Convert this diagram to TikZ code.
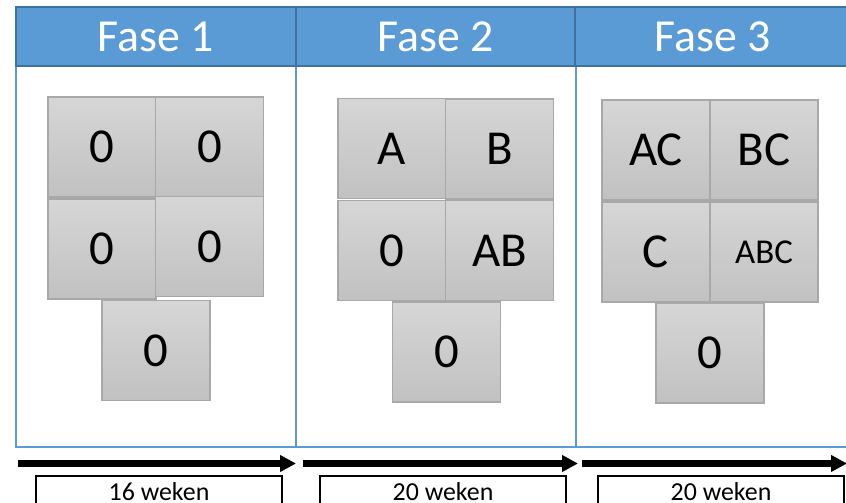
\documentclass[tikz,border=0pt]{standalone}
\usepackage{fontspec}
\setmainfont{Carlito}
\usetikzlibrary{arrows.meta}
\definecolor{hdrfill}{HTML}{5B9BD5}
\definecolor{hdrline}{HTML}{41719C}
\definecolor{colline}{HTML}{5B9BD5}
\definecolor{sqtop}{HTML}{D6D6D6}
\definecolor{sqbot}{HTML}{C1C1C1}
\definecolor{sqline}{HTML}{A8A8A8}
\tikzset{
  colbody/.style={draw=colline, line width=1.6bp, fill=white, minimum width=280bp, minimum height=381bp, inner sep=0pt, outer sep=0pt},
  hdr/.style={draw=hdrline, line width=1.8bp, fill=hdrfill, text=white, minimum height=59bp, inner sep=0pt, outer sep=0pt, font=\fontsize{46}{50}\selectfont},
  sq/.style={draw=sqline, line width=1.1bp, top color=sqtop, bottom color=sqbot, minimum width=108bp, minimum height=100bp, inner sep=0pt, outer sep=0pt, font=\fontsize{49}{52}\selectfont},
  sqsmall/.style={sq, font=\fontsize{35}{40}\selectfont},
  timeline/.style={line width=6.5bp, -{Triangle[length=16bp,width=16bp]}},
  durbox/.style={draw=black, line width=2bp, minimum width=246bp, minimum height=54bp, inner sep=0pt, outer sep=0pt},
  durtext/.style={anchor=base, font=\fontsize{26}{30}\selectfont, inner sep=0pt},
}
\begin{document}
\begin{tikzpicture}[x=1bp, y=-1bp]
\useasboundingbox (0,0) rectangle (846,503);
\clip (0,0) rectangle (846,503);

% phase columns
\node[colbody] (b1) at (156,256.5) {};
\node[colbody] (b2) at (436,256.5) {};
\node[colbody, minimum width=294bp] (b3) at (723,256.5) {};

% phase headers
\node[hdr, minimum width=280bp] (h1) at (156,36.5) {Fase 1};
\node[hdr, minimum width=279bp] (h2) at (435.5,36.5) {Fase 2};
\node[hdr, minimum width=275bp] (h3) at (712.5,36.5) {Fase 3};

% phase 1 groups
\node[sq] (p1a) at (102,147) {0};
\node[sq] (p1b) at (209.5,147) {0};
\node[sq] (p1c) at (102,249) {0};
\node[sq] (p1d) at (209.5,246.5) {0};
\node[sq] (p1e) at (156,350.5) {0};

% phase 2 groups
\node[sq] (p2a) at (392,148.5) {A};
\node[sq] (p2b) at (499.5,149) {B};
\node[sq] (p2c) at (392,250.5) {0};
\node[sq] (p2d) at (499.5,250.5) {AB};
\node[sq] (p2e) at (446.5,352) {0};

% phase 3 groups
\node[sq] (p3a) at (656,150) {AC};
\node[sq] (p3b) at (764,150) {BC};
\node[sq] (p3c) at (656,252) {C};
\node[sqsmall] (p3d) at (764,252) {ABC};
\node[sq] (p3e) at (710,353) {0};

% time arrows
\coordinate (t0) at (18,463.5);
\coordinate (t1) at (296,463.5);
\coordinate (t1b) at (303,463.5);
\coordinate (t2) at (578,463.5);
\coordinate (t2b) at (582,463.5);
\coordinate (t3) at (847,463.5);
\draw[timeline] (t0) -- (t1);
\draw[timeline] (t1b) -- (t2);
\draw[timeline] (t2b) -- (t3);

% durations
\node[durbox] (d1) at (159,503) {};
\node[durbox] (d2) at (443,503) {};
\node[durbox] (d3) at (721,503) {};
\node[durtext] (l1) at (159,500) {16 weken};
\node[durtext] (l2) at (443,500) {20 weken};
\node[durtext] (l3) at (721,500) {20 weken};
\end{tikzpicture}
\end{document}
